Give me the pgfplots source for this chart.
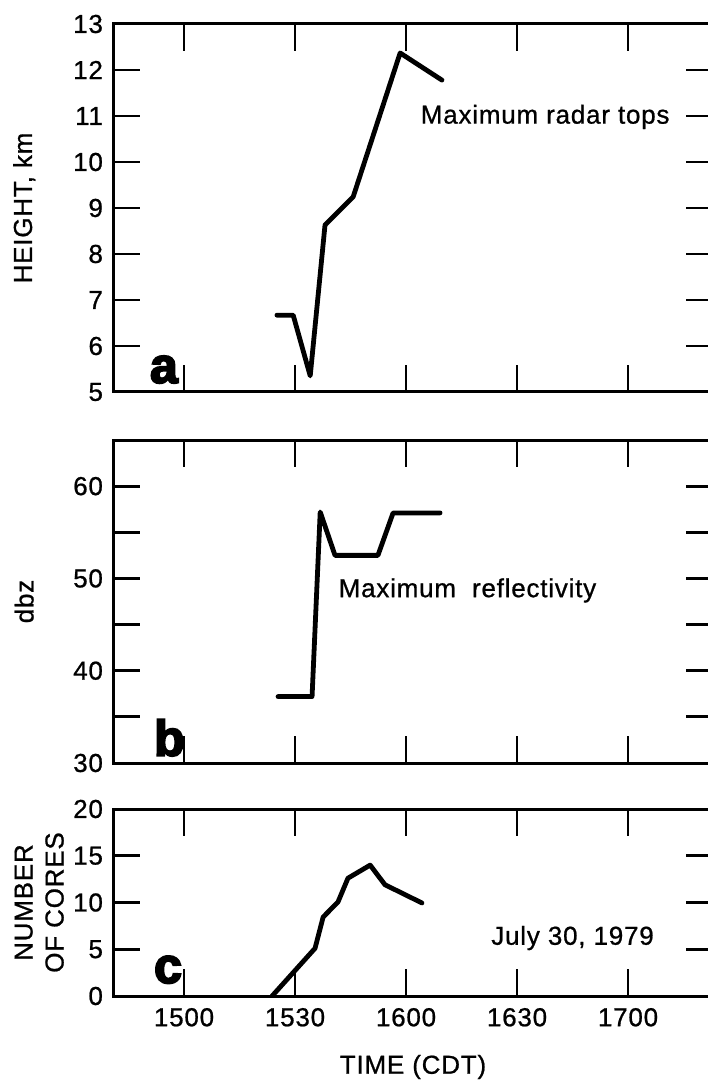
\documentclass[border=0pt]{standalone}
\usepackage{pgfplots}
\pgfplotsset{compat=1.18}
\usepackage{fontspec}
\setmainfont{Liberation Sans}[LetterSpace=3, FakeBold=0.8]
\newfontfamily\heavy{Liberation Sans}[UprightFont={* Bold}, UprightFeatures={FakeBold=4}]

% time is in minutes after 1400 CDT
\pgfplotsset{
  every axis/.append style={
    scale only axis, width=300pt, xmin=40.8, xmax=202.96,
    anchor=north west,
    axis line style={line width=1.5pt},
    tick align=inside, major tick length=13.5pt,
    every tick/.style={black, line width=1.4pt},
    xtick={60,90,120,150,180},
    yticklabel pos=left, xticklabel pos=bottom,
    yticklabel style={xshift=-1.5pt},
    xticklabel style={yshift=-2.5pt},
    /pgf/number format/assume math mode=true,
    ylabel style={at={(axis description cs:-0.148,0.5)}, anchor=center},
  },
}
\tikzset{
  trace/.style={black, line width=2.4pt, line join=round, line cap=round},
  panel/.style={anchor=base west, font=\heavy\fontsize{25}{25}\selectfont},
}

\begin{document}
\begin{tikzpicture}[font=\fontsize{13}{15.5}\selectfont]

\begin{axis}[at={(56.5pt,-12pt)}, height=184pt,
  ymin=5, ymax=13, ytick={5,...,13}, xticklabels={},
  ylabel={HEIGHT, km}]
\addplot[trace] coordinates {
  (85.1,6.67) (89.5,6.67) (94.1,5.35) (98.1,8.63)
  (105.7,9.24) (118.4,12.37) (129.7,11.78)
};
\node at (axis cs:157.6,10.98) {Maximum radar tops};
\node[panel] at (axis cs:48.9,5.2) {a};
\end{axis}

\begin{axis}[at={(56.5pt,-220pt)}, height=161.5pt,
  ymin=30, ymax=65, ytick={30,35,...,65},
  yticklabels={30,,40,,50,,60,}, xticklabels={},
  ylabel={dbz}]
\addplot[trace] coordinates {
  (85.4,37.2) (94.6,37.2) (96.8,57.2) (100.8,52.5)
  (112.4,52.5) (116.5,57.1) (129.2,57.1)
};
\node at (axis cs:136.6,48.7) {Maximum\ \ reflectivity};
\node[panel] at (axis cs:50,30.8) {b};
\end{axis}

\begin{axis}[at={(56.5pt,-404.5pt)}, height=93.5pt,
  ymin=0, ymax=20, ytick={0,5,...,20},
  xticklabels={1500,1530,1600,1630,1700},
  ylabel={NUMBER\\OF CORES},
  ylabel style={at={(axis description cs:-0.123,0.5)}, align=center},
  xlabel={TIME (CDT)},
  xlabel style={at={(axis description cs:0.5,0)}, anchor=center, yshift=-35.5pt}]
\addplot[trace] coordinates {
  (83.8,0) (95.4,5.1) (97.6,8.45) (101.6,10.05) (104.3,12.6)
  (110.3,14.0) (114.3,11.9) (124.3,9.95)
};
\node at (axis cs:165,6.2) {July 30, 1979};
\node[panel] at (axis cs:50,1.4) {c};
\end{axis}

\pgfresetboundingbox
\path (0,0) rectangle (353.5pt,-540pt);
\end{tikzpicture}
\end{document}
